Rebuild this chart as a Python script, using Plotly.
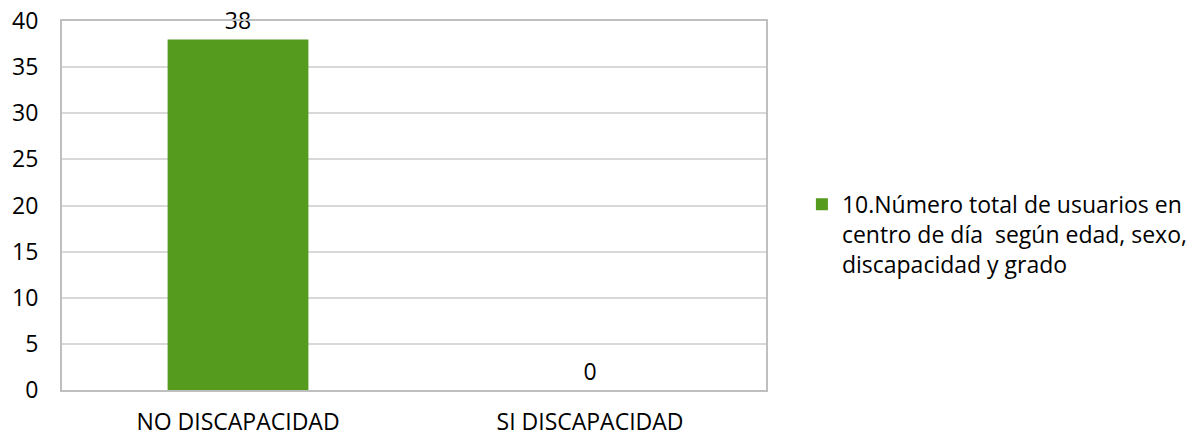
import plotly.graph_objects as go

categories = ["NO DISCAPACIDAD", "SI DISCAPACIDAD"]
values = [38, 0]
series_name = "10.Número total de usuarios en<br>centro de día  según edad, sexo,<br>discapacidad y grado"
y_ticks = [0, 5, 10, 15, 20, 25, 30, 35, 40]

font_family = "Open Sans, Liberation Sans, sans-serif"
fs = 23

fig = go.Figure()
fig.add_trace(go.Bar(
    x=categories, y=values, name=series_name,
    marker=dict(color="#559b1e", line=dict(width=0)),
    width=0.4,
    text=[str(v) for v in values], textposition="outside",
    textfont=dict(size=fs, color="#000000", family=font_family),
    cliponaxis=False,
    showlegend=True,
))

fig.update_layout(
    width=1198, height=439,
    margin=dict(l=62, r=432, t=21, b=49, autoexpand=False),
    paper_bgcolor="white", plot_bgcolor="white",
    font=dict(family=font_family, size=fs, color="#000000"),
    showlegend=True,
    legend=dict(x=1.051, y=0.422, xanchor="left", yanchor="middle",
                valign="top",
                font=dict(size=fs, family=font_family),
                bgcolor="rgba(0,0,0,0)", tracegroupgap=0),
    bargap=0.6,
)
fig.update_xaxes(
    showline=True, linecolor="#bfbfbf", linewidth=2, mirror=True,
    ticks="", tickfont=dict(size=fs), showgrid=False, automargin=False,
    ticklabelstandoff=10,
)
fig.update_yaxes(
    range=[0, 40], tickvals=y_ticks, showgrid=True, gridcolor="#d9d9d9", gridwidth=1.5,
    showline=True, linecolor="#bfbfbf", linewidth=2, mirror=True,
    ticks="", tickfont=dict(size=fs), zeroline=False, automargin=False,
    ticklabelstandoff=17, ticklabeloverflow="allow",
)

fig.write_html(
    "out.html",
    config={"displayModeBar": False},
    post_script="document.body.style.margin='0';document.body.style.padding='0';document.body.style.overflow='hidden';",
)
